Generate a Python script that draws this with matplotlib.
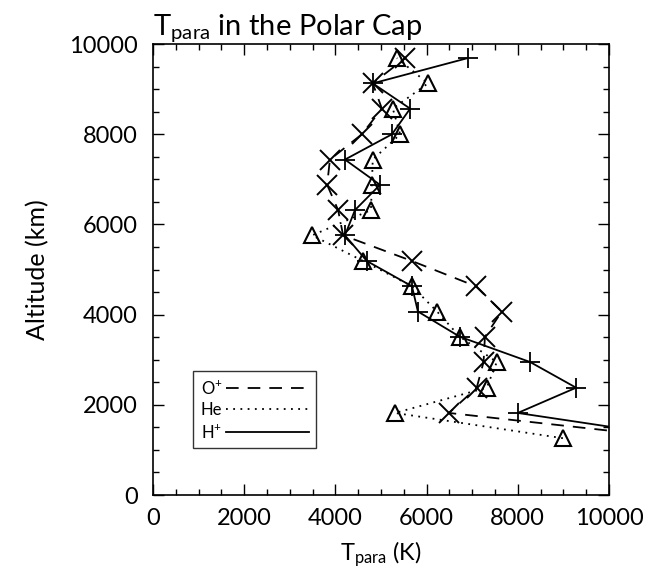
import matplotlib.pyplot as plt
from matplotlib.ticker import MultipleLocator

plt.rcParams['font.family'] = ['Lato', 'DejaVu Sans']
plt.rcParams['mathtext.fontset'] = 'custom'
plt.rcParams['mathtext.rm'] = 'Lato'
plt.rcParams['mathtext.it'] = 'Lato'

# altitude bins (km), bottom to top
altitude = [1260, 1820, 2380, 2950, 3510, 4070, 4630, 5190, 5760, 6320, 6880, 7440, 8000, 8570, 9130, 9690]

# T_para (K) for each species at those altitudes
t_oplus = [11500, 6490, 7100, 7250, 7280, 7650, 7080, 5680, 4170, 4060, 3820, 3880, 4580, 5020, 4820, 5530]
t_he = [8990, 5310, 7320, 7540, 6730, 6230, 5680, 4610, 3490, 4780, 4800, 4820, 5420, 5260, 6030, 5350]
t_hplus = [11700, 8000, 9280, 8270, 6730, 5810, 5680, 4690, 4210, 4430, 4980, 4210, 5240, 5640, 4820, 6900]

fig = plt.figure(figsize=(6.49, 5.81), dpi=100)
ax = fig.add_axes([0.2357, 0.148, 0.7026, 0.776])

lw = 1.3
ax.plot(t_oplus, altitude, color='black', lw=lw, ls=(0, (7, 5)),
        marker='x', ms=14, mew=1.4, label='O$^{+}$')
ax.plot(t_he, altitude, color='black', lw=lw, ls=(0, (1, 3)),
        marker='^', ms=12, mfc='none', mew=1.5, label='He')
ax.plot(t_hplus, altitude, color='black', lw=lw, ls='-',
        marker='+', ms=15, mew=1.3, label='H$^{+}$')

ax.set_xlim(0, 10000)
ax.set_ylim(0, 10000)
ax.xaxis.set_major_locator(MultipleLocator(2000))
ax.xaxis.set_minor_locator(MultipleLocator(500))
ax.yaxis.set_major_locator(MultipleLocator(2000))
ax.yaxis.set_minor_locator(MultipleLocator(500))
ax.tick_params(which='both', direction='in', top=True, right=True, width=1)
ax.tick_params(which='major', length=8, labelsize=17)
ax.tick_params(which='minor', length=4)
ax.tick_params(axis='y', pad=11)
ax.tick_params(axis='x', pad=9)
for sp in ax.spines.values():
    sp.set_linewidth(1.2)

ax.set_title('T$_{para}$ in the Polar Cap', fontsize=21, pad=3, loc='left')
ax.set_xlabel('T$_{para}$ (K)', fontsize=17, labelpad=8)
ax.set_ylabel('Altitude (km)', fontsize=18, labelpad=14)

leg = ax.legend(loc='upper left', bbox_to_anchor=(0.088, 0.275), markerfirst=False,
                handlelength=5.0, handletextpad=0.2, labelspacing=0.3,
                borderpad=0.45, fontsize=12, fancybox=False, frameon=True,
                borderaxespad=0)
for h in leg.get_lines():
    h.set_marker('')
leg.get_frame().set_edgecolor('black')
leg.get_frame().set_linewidth(1.0)

fig.savefig('out.png', dpi=100)
